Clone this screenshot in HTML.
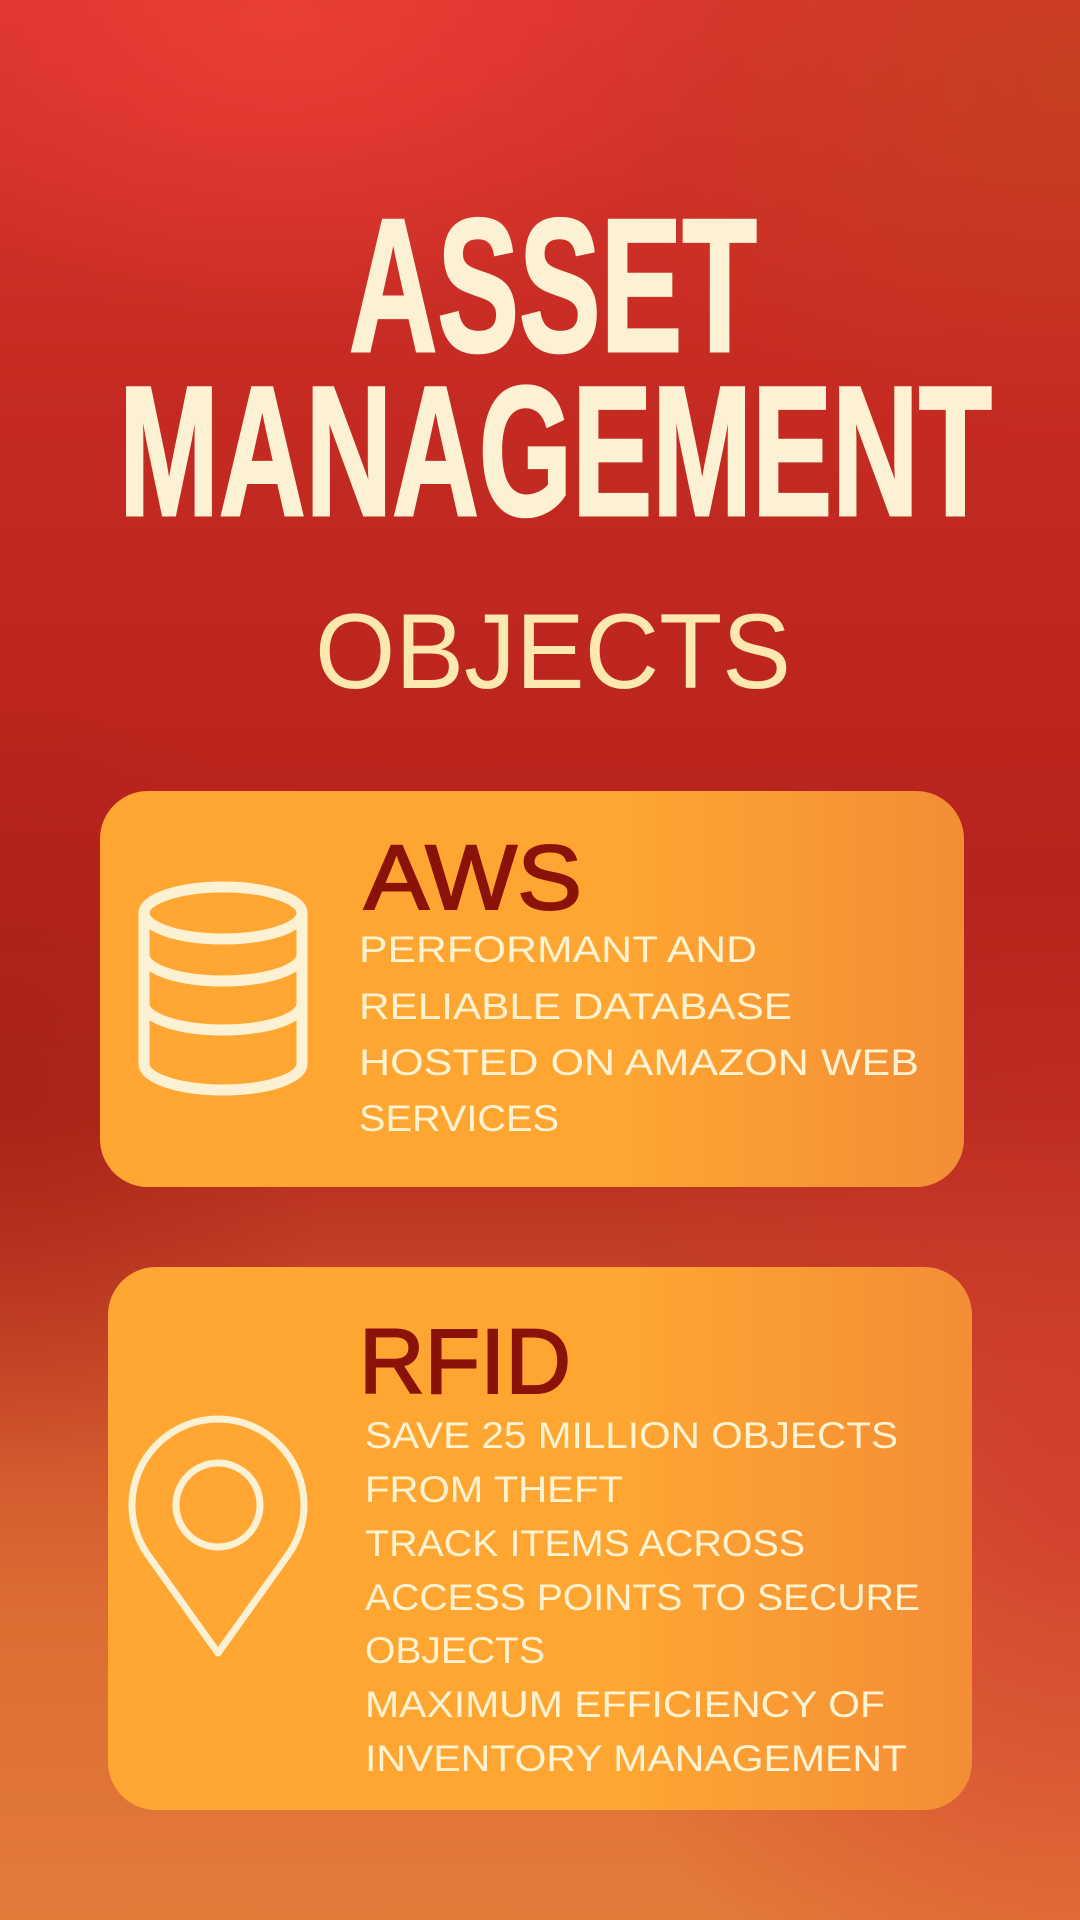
<!DOCTYPE html>
<html><head><meta charset="utf-8"><style>
html,body{margin:0;padding:0;width:1080px;height:1920px;overflow:hidden}
body{background:
radial-gradient(ellipse 450px 300px at 280px 20px, rgba(240,65,55,0.75), transparent),
radial-gradient(ellipse 500px 350px at 1080px 80px, rgba(190,70,25,0.6), transparent),
radial-gradient(ellipse 350px 400px at 0px 1080px, rgba(160,30,20,0.6), transparent),
radial-gradient(ellipse 500px 600px at 1080px 1500px, rgba(210,50,45,0.7), transparent),
linear-gradient(180deg,#d8352e 0%,#c52b22 20%,#b8231d 45%,#b72a1f 58%,#c94a28 70%,#dc6d34 84%,#e37a3a 100%);}
svg{position:absolute;left:0;top:0}
</style></head><body>
<svg width="1080" height="1920" viewBox="0 0 1080 1920" xmlns="http://www.w3.org/2000/svg">
<defs>
<linearGradient id="c" x1="0" x2="1" y1="0" y2="0">
<stop offset="0" stop-color="#ffa732"/><stop offset="0.6" stop-color="#ffa632"/><stop offset="1" stop-color="#f38d36"/>
</linearGradient>
</defs>
<g font-family="'Liberation Sans Narrow','Liberation Sans',sans-serif" font-weight="bold" fill="#fdf1d4" stroke="#fdf1d4" stroke-width="3">
<text x="349" y="351" font-size="190" textLength="408" lengthAdjust="spacingAndGlyphs">ASSET</text>
<text x="119" y="515" font-size="185" textLength="873" lengthAdjust="spacingAndGlyphs">MANAGEMENT</text>
</g>
<text x="315" y="688" font-family="'Liberation Sans',sans-serif" font-size="107" fill="#fde8b0" textLength="476" lengthAdjust="spacingAndGlyphs">OBJECTS</text>

<rect x="100" y="791" width="864" height="396" rx="48" fill="url(#c)"/>
<rect x="108" y="1267" width="864" height="543" rx="48" fill="url(#c)"/>

<g font-family="'Liberation Sans',sans-serif" fill="#8b1208" stroke="#8b1208" stroke-width="2">
<text x="364" y="909" font-size="92" textLength="218" lengthAdjust="spacingAndGlyphs">AWS</text>
<text x="359" y="1393" font-size="92" textLength="212" lengthAdjust="spacingAndGlyphs">RFID</text>
</g>
<g font-family="'Liberation Sans',sans-serif" fill="#fff3d2" font-size="37">
<text x="359" y="962" textLength="398" lengthAdjust="spacingAndGlyphs">PERFORMANT AND</text>
<text x="359" y="1019" textLength="433" lengthAdjust="spacingAndGlyphs">RELIABLE DATABASE</text>
<text x="359" y="1075" textLength="560" lengthAdjust="spacingAndGlyphs">HOSTED ON AMAZON WEB</text>
<text x="359" y="1131" textLength="200" lengthAdjust="spacingAndGlyphs">SERVICES</text>
<text x="365" y="1448" textLength="533" lengthAdjust="spacingAndGlyphs">SAVE 25 MILLION OBJECTS</text>
<text x="365" y="1502" textLength="258" lengthAdjust="spacingAndGlyphs">FROM THEFT</text>
<text x="365" y="1556" textLength="440" lengthAdjust="spacingAndGlyphs">TRACK ITEMS ACROSS</text>
<text x="365" y="1610" textLength="555" lengthAdjust="spacingAndGlyphs">ACCESS POINTS TO SECURE</text>
<text x="365" y="1663" textLength="180" lengthAdjust="spacingAndGlyphs">OBJECTS</text>
<text x="365" y="1717" textLength="520" lengthAdjust="spacingAndGlyphs">MAXIMUM EFFICIENCY OF</text>
<text x="365" y="1771" textLength="542" lengthAdjust="spacingAndGlyphs">INVENTORY MANAGEMENT</text>
</g>

<g fill="none" stroke="#fdf1d4" stroke-width="11">
<ellipse cx="223" cy="913" rx="79" ry="26"/>
<path d="M144 913 V1064 A79 26 0 0 0 302 1064 V913"/>
<path d="M144 955 A79 26 0 0 0 302 955"/>
<path d="M144 1004 A79 26 0 0 0 302 1004"/>
</g>
<g fill="none" stroke="#fdf1d4" stroke-width="7" stroke-linejoin="round">
<path d="M218 1653 L148 1555 A86 86 0 1 1 288 1555 Z"/>
<circle cx="218" cy="1505" r="42"/>
</g>
</svg>
</body></html>
